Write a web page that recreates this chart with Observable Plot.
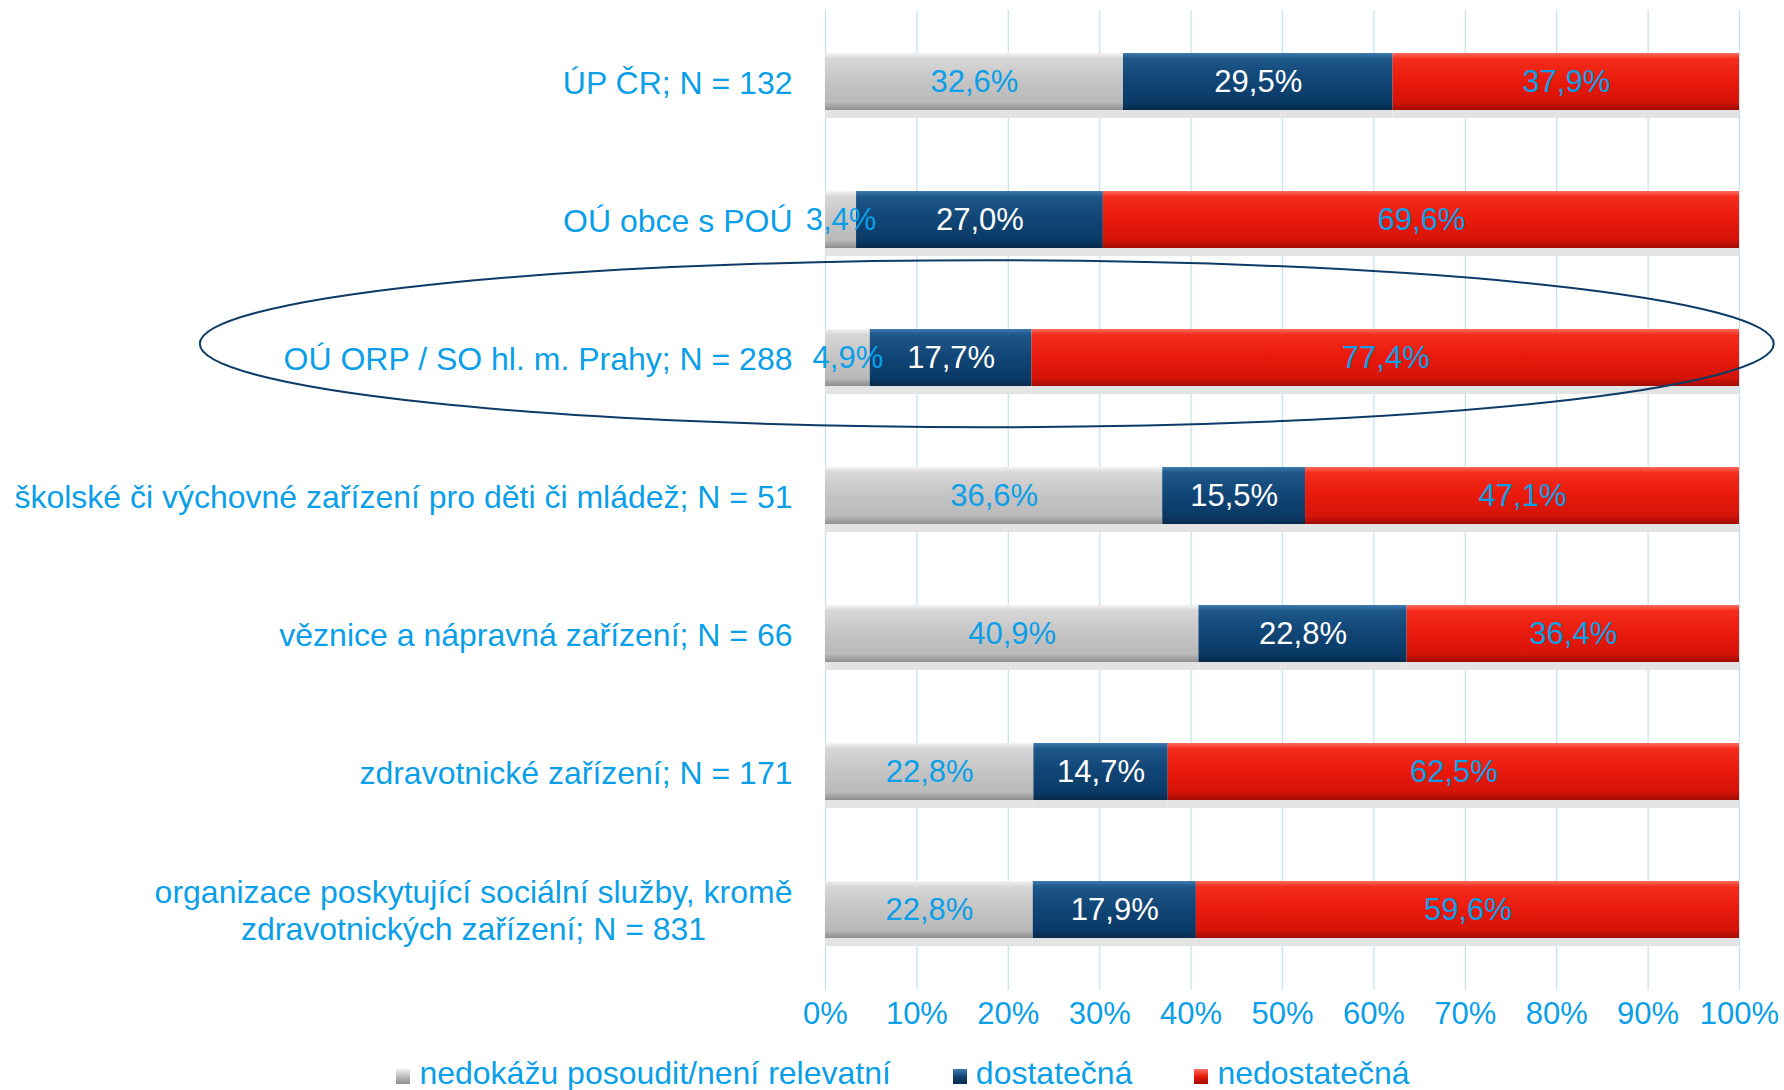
<!DOCTYPE html>
<html>
<head>
<meta charset="utf-8">
<script src="https://cdn.jsdelivr.net/npm/d3@7"></script>
<script src="https://cdn.jsdelivr.net/npm/@observablehq/plot@0.6"></script>
<style>
  body { margin: 0; background: #fff; font-family: "Liberation Sans", Arial, sans-serif; }
  #legend { display: flex; justify-content: center; align-items: center; height: 66px; margin-left: 22px; gap: 62px; font-size: 32px; color: #0a9fe8; }
  #legend .item { display: flex; align-items: center; gap: 9px; }
  #legend .sw { width: 14px; height: 15px; margin-top: 6px; }
</style>
</head>
<body>
<div id="chart"></div>
<div id="legend"></div>
<script>
// ---- data ----
const categories = [
  "ÚP ČR; N = 132",
  "OÚ obce s POÚ",
  "OÚ ORP / SO hl. m. Prahy; N = 288",
  "školské či výchovné zařízení pro děti či mládež; N = 51",
  "věznice a nápravná zařízení; N = 66",
  "zdravotnické zařízení; N = 171",
  "organizace poskytující sociální služby, kromě\nzdravotnických zařízení; N = 831"
];
const series = ["nedokážu posoudit/není relevatní", "dostatečná", "nedostatečná"];
const nedokazuPosoudit = [32.6, 3.4, 4.9, 36.6, 40.9, 22.8, 22.8];
const dostatecna       = [29.5, 27.0, 17.7, 15.5, 22.8, 14.7, 17.9];
const nedostatecna     = [37.9, 69.6, 77.4, 47.1, 36.4, 62.5, 59.6];
const xTicks = [0, 0.1, 0.2, 0.3, 0.4, 0.5, 0.6, 0.7, 0.8, 0.9, 1];
const highlighted = categories[2];

// ---- styles ----
const blue = "#0a9fe8";
const gridColor = "#c3e4f7";
const fills = {
  [series[0]]: "url(#gGray)",
  [series[1]]: "url(#gNavy)",
  [series[2]]: "url(#gRed)"
};
const labelFills = { [series[0]]: blue, [series[1]]: "#ffffff", [series[2]]: blue };
const gradients = {
  gGray: [["0", "#f3f3f3"], ["0.1", "#d7d7d7"], ["0.5", "#c4c4c4"], ["0.86", "#bababa"], ["1", "#8e8e8e"]],
  gNavy: [["0", "#3f7bb0"], ["0.1", "#1e5789"], ["0.5", "#104575"], ["0.86", "#0b3a66"], ["1", "#062a4c"]],
  gRed:  [["0", "#ff6d5f"], ["0.1", "#f52c1b"], ["0.5", "#e8190b"], ["0.86", "#d51408"], ["1", "#a00c04"]]
};

const seriesValues = [nedokazuPosoudit, dostatecna, nedostatecna];
const rows = categories.flatMap((c, i) => series.map((s, j) => ({category: c, series: s, value: seriesValues[j][i]})));
const fmt = v => v.toFixed(1).replace(".", ",") + "%";

const stackOpts = {offset: "normalize", x: "value", y: "category", z: "series", order: series};

const svg = Plot.plot({
  width: 1784,
  height: 1040,
  marginTop: 10,
  marginBottom: 60,
  marginLeft: 825,
  marginRight: 45,
  style: {fontFamily: "'Liberation Sans', Arial, sans-serif", background: "#fff"},
  x: {domain: [0, 1], axis: null},
  y: {domain: categories, axis: null, paddingInner: 0.59, paddingOuter: 0.295},
  color: {type: "identity"},
  marks: [
    Plot.gridX(xTicks, {stroke: gridColor, strokeOpacity: 1, strokeWidth: 1.3}),
    Plot.axisX({ticks: xTicks, tickFormat: d => Math.round(d * 100) + "%", tickSize: 10, tickPadding: 11,
      stroke: gridColor, strokeOpacity: 1, strokeWidth: 1.3, fill: blue, fontSize: 31, label: null}),
    Plot.barX(rows, Plot.stackX({...stackOpts, fill: "#e3e3e3", dy: 8})),
    Plot.barX(rows, Plot.stackX({...stackOpts, fill: d => fills[d.series]})),
    Plot.text(rows, Plot.stackX({...stackOpts, text: d => fmt(d.value), fill: d => labelFills[d.series], fontSize: 31})),
    Plot.text(categories, {y: d => d, text: d => d, frameAnchor: "left", dx: -33, textAnchor: "end",
      lineHeight: 1.14, fontSize: 32, fill: blue, className: "ylab"})
  ]
});

document.getElementById("chart").appendChild(svg);

// gradient definitions
const ns = "http://www.w3.org/2000/svg";
const defs = document.createElementNS(ns, "defs");
for (const [id, stops] of Object.entries(gradients)) {
  const g = document.createElementNS(ns, "linearGradient");
  g.setAttribute("id", id);
  g.setAttribute("x1", "0"); g.setAttribute("y1", "0"); g.setAttribute("x2", "0"); g.setAttribute("y2", "1");
  for (const [o, c] of stops) {
    const s = document.createElementNS(ns, "stop");
    s.setAttribute("offset", o); s.setAttribute("stop-color", c);
    g.appendChild(s);
  }
  defs.appendChild(g);
}
svg.insertBefore(defs, svg.firstChild);

// center multi-line category labels (Excel style)
svg.querySelectorAll(".ylab text").forEach(t => {
  const spans = t.querySelectorAll("tspan");
  if (spans.length > 1) {
    const w = Math.max(...Array.from(spans, s => s.getComputedTextLength()));
    t.setAttribute("text-anchor", "middle");
    spans.forEach(s => s.setAttribute("x", -w / 2));
  }
});

// highlight ellipse around the chosen category
const xs = svg.scale("x"), ys = svg.scale("y");
const xLeft = xs.apply(-0.684), xRight = xs.apply(1.038);
const cy = ys.apply(highlighted) + ys.bandwidth / 2 - 0.1 * ys.step;
const ell = document.createElementNS(ns, "ellipse");
ell.setAttribute("cx", (xLeft + xRight) / 2);
ell.setAttribute("cy", cy);
ell.setAttribute("rx", (xRight - xLeft) / 2);
ell.setAttribute("ry", 0.605 * ys.step);
ell.setAttribute("fill", "none");
ell.setAttribute("stroke", "#0d3b66");
ell.setAttribute("stroke-width", 2);
svg.appendChild(ell);

// legend
const legendSwatch = {
  [series[0]]: "linear-gradient(#f0f0f0, #bdbdbd 50%, #8e8e8e)",
  [series[1]]: "linear-gradient(#3f7bb0, #104575 50%, #062a4c)",
  [series[2]]: "linear-gradient(#ff6d5f, #e8190b 50%, #a00c04)"
};
const legend = document.getElementById("legend");
series.forEach(s => {
  const item = document.createElement("div");
  item.className = "item";
  const sw = document.createElement("div");
  sw.className = "sw";
  sw.style.background = legendSwatch[s];
  const lab = document.createElement("span");
  lab.textContent = s;
  item.appendChild(sw); item.appendChild(lab);
  legend.appendChild(item);
});
</script>
</body>
</html>
